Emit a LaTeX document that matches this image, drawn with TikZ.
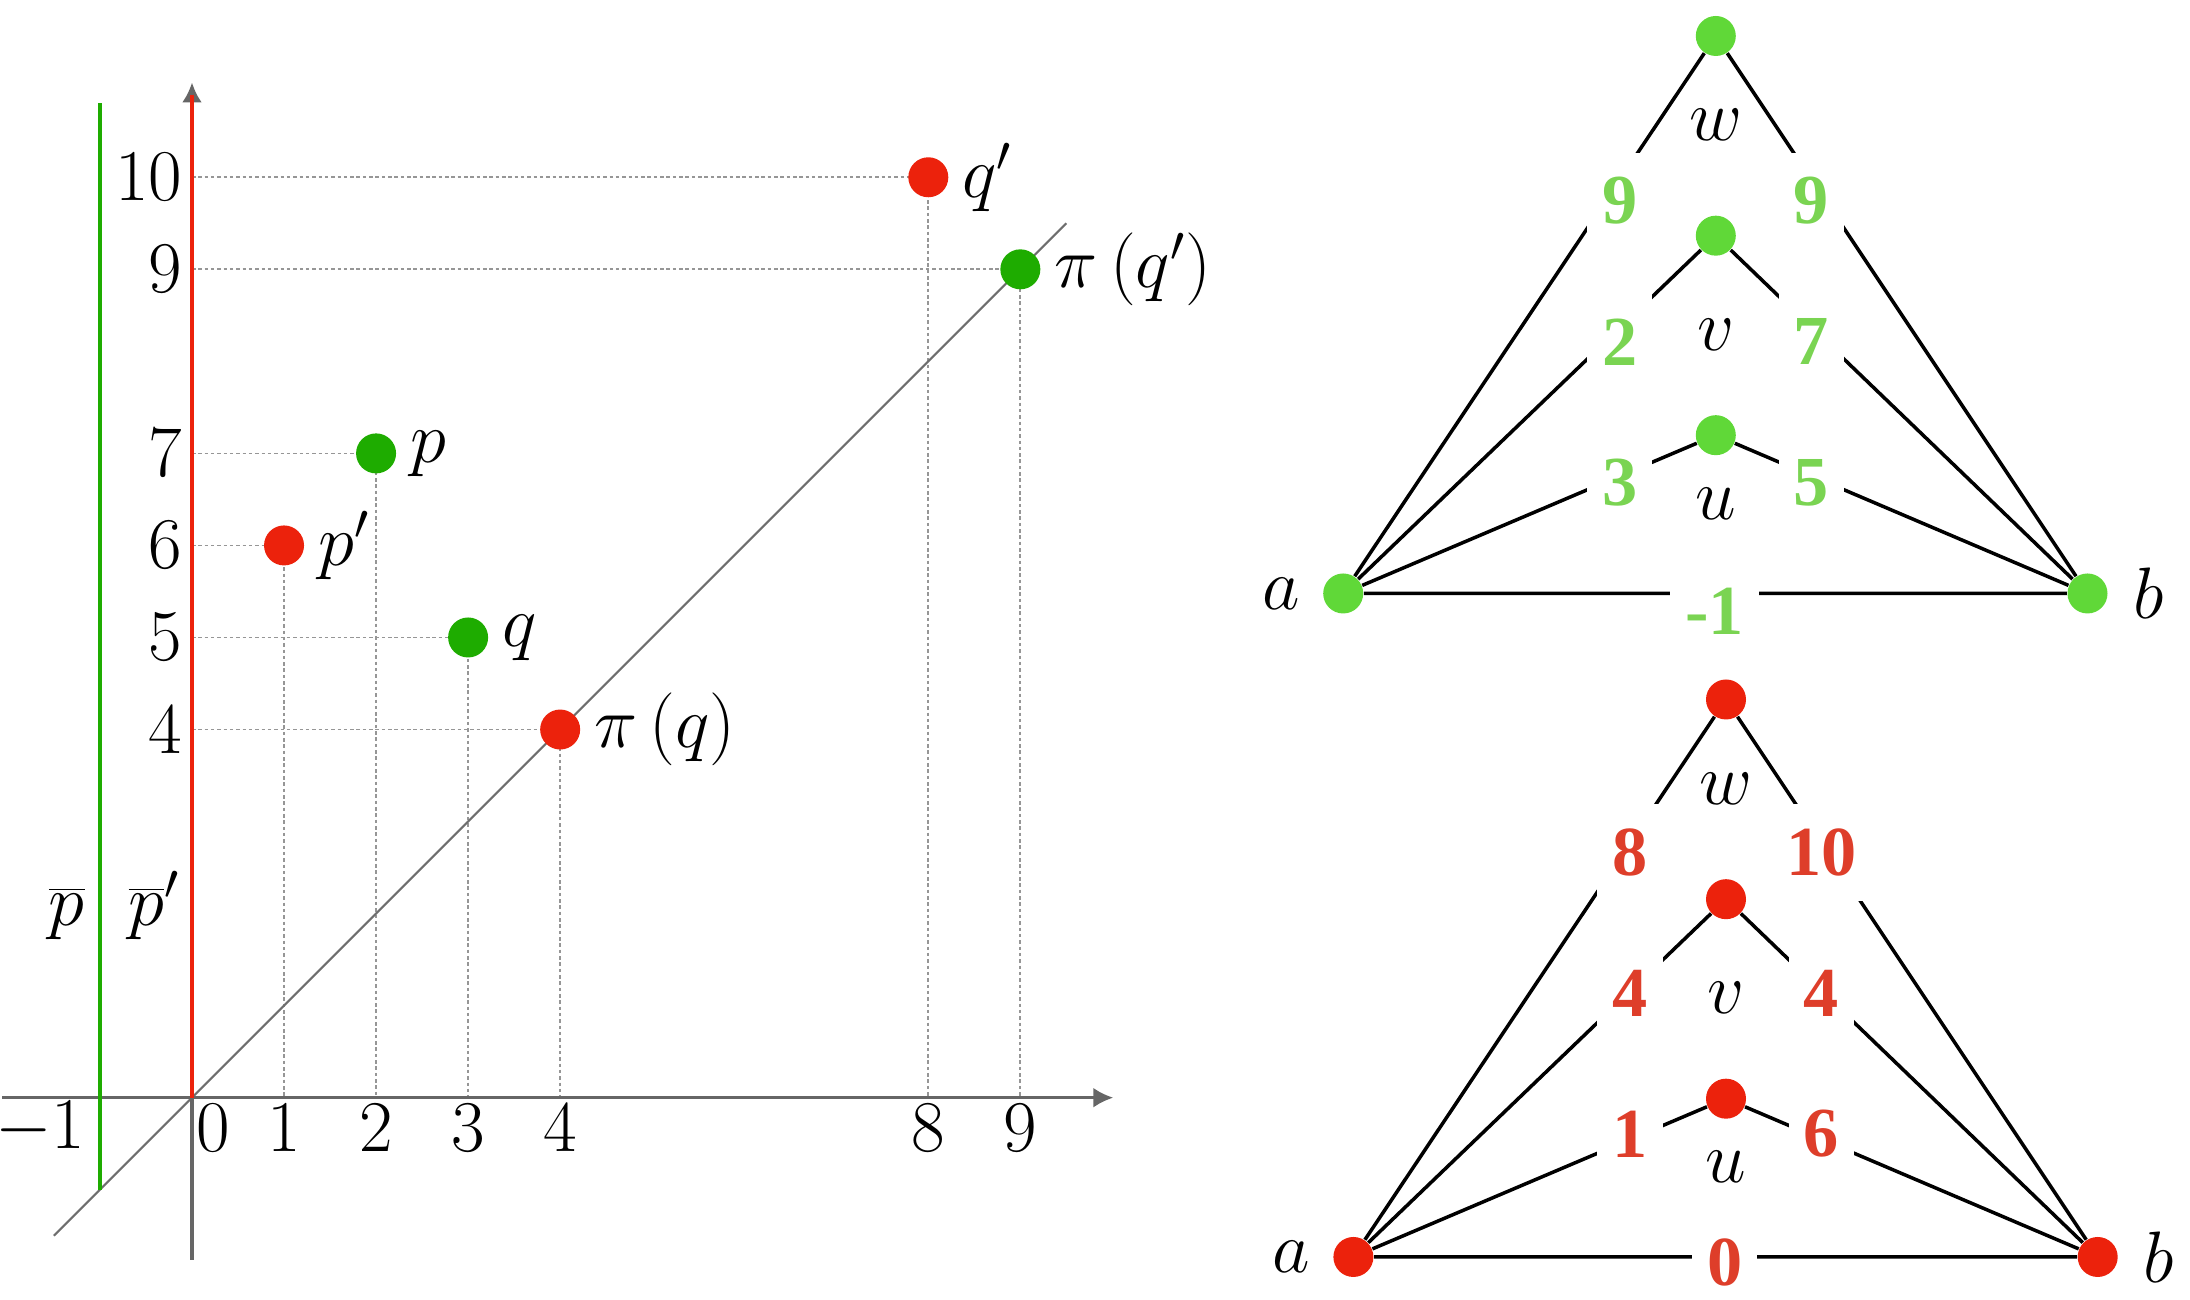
\documentclass[tikz,border=0pt]{standalone}
\usepackage{fontspec}
\newfontfamily\wtfont{Liberation Serif}
\usetikzlibrary{arrows.meta,backgrounds}
\definecolor{ptred}{RGB}{236,34,12}
\definecolor{ptgreen}{RGB}{30,172,0}
\definecolor{gvgreen}{RGB}{96,216,56}
\definecolor{gwgreen}{RGB}{122,212,82}
\definecolor{gwred}{RGB}{222,62,42}
\definecolor{axgray}{RGB}{102,102,102}
\definecolor{diaggray}{RGB}{110,110,110}
\definecolor{guidegray}{RGB}{150,150,150}
\begin{document}
\begin{tikzpicture}[
    every node/.style={font=\fontsize{19.5}{23}\selectfont},
    dot/.style={circle,fill=#1,inner sep=0pt,minimum size=4mm},
    lbl/.style={inner sep=0pt,label distance=3.7pt},
    axis/.style={axgray,line width=0.95pt},
    diag/.style={diaggray,line width=0.6pt},
    guide/.style={guidegray,line width=0.5pt,dash pattern=on 1pt off 0.8pt},
    edge/.style={line width=1pt},
    wt/.style={fill=white,inner xsep=4.3pt,inner ysep=7pt,
      font=\fontsize{20}{23}\selectfont\wtfont\bfseries}]
  \useasboundingbox (0,0) rectangle (21.9,13);
  % ---- the plane: the lines p-bar, p-bar' and the points ----
  \begin{scope}[shift={(1.92,2.023)},x=0.9204cm,y=0.9204cm]
    \coordinate (o) at (0,0);
    \node[dot=ptred,  label={[lbl]right:$q'$}]                  (qp)   at (8,10) {};
    \node[dot=ptgreen,label={[lbl]right:$\pi\left(q'\right)$}] (piqp) at (9,9)  {};
    \node[dot=ptgreen,label={[lbl]right:$p$}]                   (p)    at (2,7)  {};
    \node[dot=ptred,  label={[lbl]right:$p'$}]                  (pp)   at (1,6)  {};
    \node[dot=ptgreen,label={[lbl]right:$q$}]                   (q)    at (3,5)  {};
    \node[dot=ptred,  label={[lbl]right:$\pi\left(q\right)$}]  (piq)  at (4,4)  {};
    \begin{scope}[on background layer]
      \foreach \n in {qp,piqp,p,pp,q,piq}
        \draw[guide] (\n -| o) -- (\n.center) -- (\n |- o);
      \draw[diag] (-1.5,-1.5) -- (9.5,9.5);
      \draw[axis,-{Latex[length=2mm,width=2mm]}] (-2.06,0) -- (10.01,0);
      \draw[axis,-{Latex[length=2mm,width=2mm]}] (0,-1.76) -- (0,11.03);
    \end{scope}
    \draw[ptred,line width=1.25pt] (0,0) -- (0,10.89);
    \draw[ptgreen,line width=1.15pt] (-1,-1) -- (-1,10.81);
    % ticks
    \foreach \t in {1,2,3,4,8,9}
      \node (x\t) at (\t,-0.333) {$\t$};
    \node (x0) at (0.232,-0.333) {$0$};
    \node (xm) at (-1.65,-0.333) {$-1$};
    \foreach \t in {4,5,6,7,9,10}
      \node[anchor=east,inner sep=0pt] (y\t) at (-0.1,\t) {$\t$};
    \node[anchor=base] (pb)  at (-1.36,1.87) {$\overline{p}$};
    \node[anchor=base] (pbp) at (-0.41,1.87) {$\overline{p}'$};
  \end{scope}
  % ---- the two weighted graphs ----
  \foreach \sx/\sy/\dy/\vc/\lc/\wa/\wb/\va/\vb/\ua/\ub/\ab in
      {13.432/7.065/-0.06/gvgreen/gwgreen/9/9/2/7/3/5/-1,
       13.534/0.43/0.06/ptred/gwred/8/10/4/4/1/6/0}{
    \begin{scope}[shift={(\sx,\sy)}]
      \node[dot=\vc,label={[label distance=1mm]left:$a$}]    (a) at (0,0) {};
      \node[dot=\vc,label={[label distance=1.3mm]right:$b$}] (b) at (7.443,0) {};
      \node[dot=\vc] (u) at (3.726,1.583) {};
      \node[dot=\vc] (v) at (3.726,3.578) {};
      \node[dot=\vc] (w) at (3.726,5.575) {};
      \node (lu) at (3.726,0.897) {$u$};
      \node (lv) at (3.726,2.59)  {$v$};
      \node (lw) at (3.726,4.684) {$w$};
      \draw[edge] (a) -- (w) -- (b) (a) -- (v) -- (b) (a) -- (u) -- (b) (a) -- (b);
      \begin{scope}[yshift=\dy cm]
        \node[wt,text=\lc] (wa) at (2.765,3.984)  {\wa};
        \node[wt,text=\lc] (wb) at (4.68,3.984)   {\wb};
        \node[wt,text=\lc] (va) at (2.765,2.577)  {\va};
        \node[wt,text=\lc] (vb) at (4.68,2.577)   {\vb};
        \node[wt,text=\lc] (ua) at (2.765,1.171)  {\ua};
        \node[wt,text=\lc] (ub) at (4.68,1.171)   {\ub};
        \node[wt,text=\lc] (ab) at (3.712,-0.117) {\ab};
      \end{scope}
    \end{scope}}
\end{tikzpicture}
\end{document}
